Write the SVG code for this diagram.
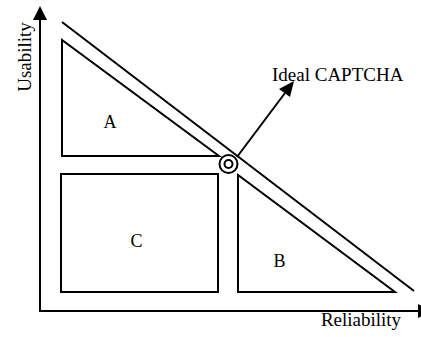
<svg xmlns="http://www.w3.org/2000/svg" width="421" height="337" viewBox="0 0 421 337">
<style>
.ln{fill:none;stroke:#000;stroke-width:2}
.t{font-family:"Liberation Serif","Times New Roman",serif;fill:#000}
</style>
<rect width="421" height="337" fill="#fff"/>
<g id="axes">
<line class="ln" x1="40" y1="18" x2="40" y2="311"/>
<line class="ln" x1="39" y1="311" x2="420" y2="311"/>
<polygon points="40,6 33,20 47,20" fill="#000"/>
<polygon points="418,304 432,311 418,318" fill="#000"/>
<text class="t" x="0" y="0" font-size="19" text-anchor="middle" transform="translate(31,57) rotate(-90)">Usability</text>
<text class="t" x="361" y="326" font-size="19" text-anchor="middle">Reliability</text>
</g>
<g id="frontier">
<line class="ln" x1="62" y1="22" x2="414" y2="291"/>
</g>
<g id="A">
<polygon class="ln" points="62,40 62,156 219,156"/>
<text class="t" x="110" y="128" font-size="18" text-anchor="middle">A</text>
</g>
<g id="C">
<rect class="ln" x="61" y="174" width="157" height="118"/>
<text class="t" x="136.5" y="247" font-size="18" text-anchor="middle">C</text>
</g>
<g id="B">
<polygon class="ln" points="238,175 238,292 395,292"/>
<text class="t" x="279.5" y="267" font-size="18" text-anchor="middle">B</text>
</g>
<g id="ideal">
<circle class="ln" cx="228.5" cy="164" r="9" fill="#fff"/>
<circle class="ln" cx="228.5" cy="164" r="4"/>
<text class="t" x="272" y="81" font-size="19">Ideal CAPTCHA</text>
</g>
<g id="connectors">
<line class="ln" x1="237" y1="157" x2="285" y2="93"/>
<polygon points="294,81 279,89 290,97" fill="#000"/>
</g>
</svg>
